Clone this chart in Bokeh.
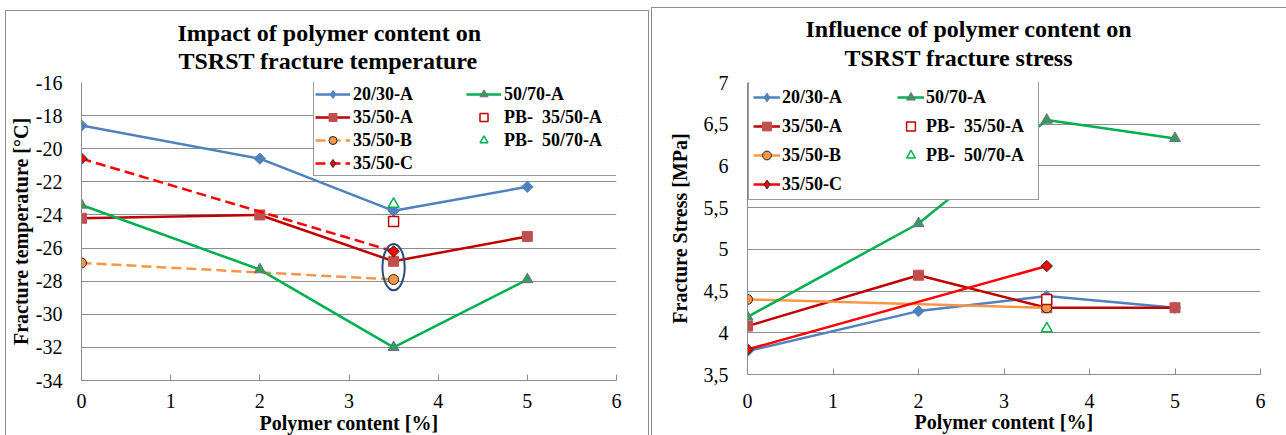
import numpy as np
from bokeh.plotting import figure
from bokeh.layouts import row
from bokeh.models import (Range1d, FixedTicker, Legend, LegendItem, Title,
                          CustomJSTickFormatter)
from bokeh.embed import file_html
from bokeh.resources import INLINE

# ---------------- data ----------------
polymer_content = [0, 2, 3.5, 5]
polymer_short = [0, 3.5]
polymer_pb = [3.5]

# fracture temperature [°C]
temp_2030A = [-18.6, -20.6, -23.75, -22.3]
temp_3550A = [-24.2, -24.0, -26.8, -25.3]
temp_3550B = [-26.9, -27.9]
temp_3550C = [-20.6, -26.2]
temp_5070A = [-23.4, -27.3, -32.0, -27.9]
temp_PB3550A = [-24.4]
temp_PB5070A = [-23.35]

# fracture stress [MPa]
stress_2030A = [3.78, 4.26, 4.44, 4.30]
stress_3550A = [4.08, 4.69, 4.30, 4.30]
stress_3550B = [4.40, 4.30]
stress_3550C = [3.80, 4.80]
stress_5070A = [4.19, 5.31, 6.55, 6.33]
stress_PB3550A = [4.40]
stress_PB5070A = [4.05]

# highlighted group (ellipse) on temperature chart
highlight_x = [3.5]
highlight_y = [-27.15]
highlight_w = 0.25
highlight_h = 2.8

x_ticks = [0, 1, 2, 3, 4, 5, 6]
temp_ticks = [-34, -32, -30, -28, -26, -24, -22, -20, -18, -16]
stress_ticks = [3.5, 4, 4.5, 5, 5.5, 6, 6.5, 7]

labels = ["20/30-A", "35/50-A", "35/50-B", "35/50-C", "50/70-A",
          "PB-\u00a0 35/50-A", "PB-\u00a0 50/70-A"]

# ---------------- style ----------------
FONT = "Liberation Serif"
GRAY = "#8c8c8c"
BLUE = "#4F81BD"
DKRED = "#C00000"
SQRED = "#C0504D"
ORANGE = "#F79646"
RED = "#FF0000"
GREEN = "#00B050"
TRI_FILL = "#2FA24A"
TRI_LINE = "#7463A6"
DIAMOND_ANGLE = 0.785398
NO_POINT = np.array([np.nan])   # legend-only marker renderers


def base_fig(frame_w, frame_h, borders, y_rng, ylabel, shadow):
    p = figure(frame_width=frame_w, frame_height=frame_h, output_backend="svg",
               toolbar_location=None, x_range=Range1d(0, 6), y_range=y_rng)
    p.min_border_left, p.min_border_right, p.min_border_top, p.min_border_bottom = borders
    p.title.visible = False
    p.border_fill_color = None
    p.background_fill_color = "white"
    p.outline_line_color = None
    p.styles = {"box-shadow": shadow}
    p.xgrid.visible = False
    p.ygrid.grid_line_color = GRAY
    p.ygrid.grid_line_width = 1
    for ax in (p.xaxis[0], p.yaxis[0]):
        ax.axis_line_color = GRAY
        ax.axis_line_width = 1
        ax.major_tick_line_color = GRAY
        ax.minor_tick_line_color = None
        ax.major_label_text_font = FONT
        ax.major_label_text_font_size = "20px"
        ax.major_label_text_color = "black"
        ax.axis_label_text_font = FONT
        ax.axis_label_text_font_size = "20px"
        ax.axis_label_text_font_style = "bold"
        ax.axis_label_text_color = "black"
    p.xaxis.ticker = FixedTicker(ticks=x_ticks)
    p.xaxis.major_tick_in = 6
    p.xaxis.major_tick_out = 0
    p.xaxis.axis_label = "Polymer content [%]"
    p.yaxis.major_tick_in = 0
    p.yaxis.major_tick_out = 0
    p.yaxis.axis_label = ylabel
    return p


def add_series(p, yA, yA35, yB, yC, y70, yPB35, yPB70, dashedBC):
    items = []
    dash = "10 5" if dashedBC else "solid"
    l1 = p.line(polymer_content, yA, line_color=BLUE, line_width=2.5)
    p.scatter(polymer_content, yA, marker="square", angle=DIAMOND_ANGLE,
              size=8, fill_color=BLUE, line_color=BLUE)
    g1 = p.scatter(NO_POINT, NO_POINT, marker="diamond", size=13,
                   fill_color=BLUE, line_color=BLUE)
    l2 = p.line(polymer_content, yA35, line_color=DKRED, line_width=2.5)
    m2 = p.scatter(polymer_content, yA35, marker="square", size=10,
                   fill_color=SQRED, line_color=SQRED)
    l3 = p.line(polymer_short, yB, line_color=ORANGE, line_width=2.5, line_dash=dash)
    m3 = p.scatter(polymer_short, yB, marker="circle", size=10,
                   fill_color=ORANGE, line_color="#222222", line_width=1)
    l4 = p.line(polymer_short, yC, line_color=RED, line_width=2.5, line_dash=dash)
    p.scatter(polymer_short, yC, marker="square", angle=DIAMOND_ANGLE,
              size=8, fill_color=RED, line_color="#222222", line_width=1)
    g4 = p.scatter(NO_POINT, NO_POINT, marker="diamond", size=13,
                   fill_color=RED, line_color="#222222", line_width=1)
    l5 = p.line(polymer_content, y70, line_color=GREEN, line_width=2.5)
    m5 = p.scatter(polymer_content, y70, marker="triangle", size=11,
                   fill_color=TRI_FILL, line_color=TRI_LINE, line_width=1)
    m6 = p.scatter(polymer_pb, yPB35, marker="square", size=10,
                   fill_color="white", line_color=DKRED, line_width=1.5)
    m7 = p.scatter(polymer_pb, yPB70, marker="triangle", size=11,
                   fill_color="white", line_color=GREEN, line_width=1.5)
    rends = [[l1, g1], [l2, m2], [l3, m3], [l4, g4], [l5, m5], [m6], [m7]]
    for lab, r in zip(labels, rends):
        items.append(LegendItem(label=lab, renderers=r))
    return items


def style_legend(lg):
    lg.border_line_color = "#333333"
    lg.border_line_width = 1
    lg.background_fill_color = "white"
    lg.background_fill_alpha = 1
    lg.label_text_font = FONT
    lg.label_text_font_style = "bold"
    lg.label_text_font_size = "18px"
    lg.label_text_color = "black"
    lg.margin = 0
    lg.click_policy = "none"


def add_titles(p, line1, line2, off1, off2, stand1, stand2):
    # closest to the frame first
    p.add_layout(Title(text=line2, align="left", offset=off2, standoff=stand2,
                       text_font=FONT, text_font_style="bold",
                       text_font_size="24px", text_color="black"), "above")
    p.add_layout(Title(text=line1, align="left", offset=off1, standoff=stand1,
                       text_font=FONT, text_font_style="bold",
                       text_font_size="24px", text_color="black"), "above")


# ---------------- left chart ----------------
shadow_left = ("inset 5px 0 0 0 white, inset 0 10px 0 0 white, "
               "inset -1px 0 0 0 white, "
               "inset 6px 0 0 0 #8c8c8c, inset 0 11px 0 0 #8c8c8c, "
               "inset -2px 0 0 0 #8c8c8c")
p1 = base_fig(535, 298, (81, 34, 82, 55), Range1d(-34, -16),
              "Fracture temperature [°C]", shadow_left)
p1.yaxis.ticker = FixedTicker(ticks=temp_ticks)
p1.yaxis.formatter = CustomJSTickFormatter(code="return tick.toString();")
p1.yaxis.major_label_standoff = 19
p1.yaxis.axis_label_standoff = 1
p1.xaxis.major_label_standoff = 13
p1.xaxis.axis_label_standoff = 1
items1 = add_series(p1, temp_2030A, temp_3550A, temp_3550B, temp_3550C,
                    temp_5070A, temp_PB3550A, temp_PB5070A, True)
p1.ellipse(x=highlight_x, y=highlight_y, width=highlight_w, height=highlight_h,
           fill_color=None, line_color="#2C4D7A", line_width=2)
lg1 = Legend(items=items1, location=(232, 204), nrows=4, orientation="vertical",
             glyph_width=35, glyph_height=20, label_height=22, label_width=112,
             label_standoff=3, spacing=1, padding=1)
style_legend(lg1)
p1.add_layout(lg1)
add_titles(p1, "Impact of polymer content on", "TSRST fracture temperature",
           96, 97, -19, 18)

# ---------------- right chart ----------------
shadow_right = ("inset 1px 0 0 0 white, inset 0 7px 0 0 white, "
                "inset 2px 0 0 0 #8c8c8c, inset 0 8px 0 0 #8c8c8c")
p2 = base_fig(513, 292, (97, 26, 81, 62), Range1d(3.5, 7),
              "Fracture Stress [MPa]", shadow_right)
p2.yaxis.ticker = FixedTicker(ticks=stress_ticks)
p2.yaxis.formatter = CustomJSTickFormatter(
    code="return (Math.round(tick*10)/10).toString().replace('.', ',');")
p2.yaxis.major_label_standoff = 19
p2.yaxis.axis_label_standoff = 10
p2.xaxis.major_label_standoff = 19
p2.xaxis.axis_label_standoff = 0
items2 = add_series(p2, stress_2030A, stress_3550A, stress_3550B, stress_3550C,
                    stress_5070A, stress_PB3550A, stress_PB5070A, False)
lg2 = Legend(items=items2, location=(1, 174), nrows=4, orientation="vertical",
             glyph_width=27, glyph_height=22, label_height=22, label_width=108,
             label_standoff=2, spacing=7, padding=4)
style_legend(lg2)
p2.add_layout(lg2)
add_titles(p2, "Influence of polymer content on", "TSRST fracture stress",
           58, 97, -21, 23)

layout = row(p1, p2, spacing=0)
open("out.html", "w").write(file_html(layout, INLINE))
